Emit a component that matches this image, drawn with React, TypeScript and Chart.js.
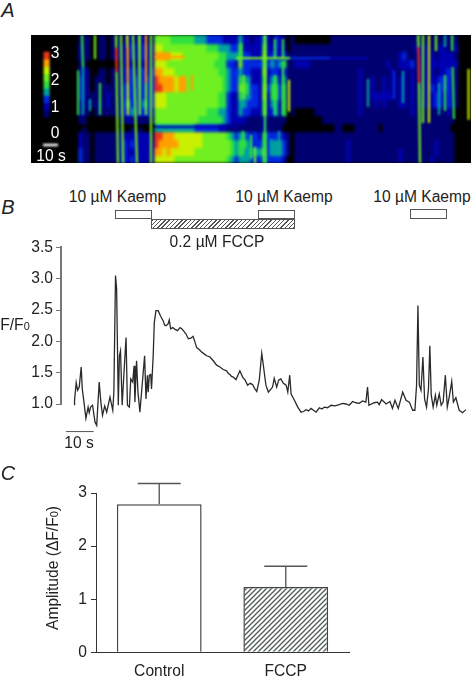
import React, { useEffect, useRef } from "react";
import { Chart, registerables } from "chart.js";

Chart.register(...registerables);

// Panel A: fluorescence levels (0 black .. 9 red) by image row and time column
const HEAT_ROWS = [
  "1110011011112212211 666655555544433332222 42212242132101 0000000001111111111111111111111 111111111100",
  "2110011011222322322 776666666666655544433 52222252232201 1111111111111111111111111111112 222112211200",
  "2110011011222322322 888877766666666655444 53322262332311 1111111111111111111111111123111 222212222100",
  "1100000000122212222 777666666666666555332 63333353434511 2222111111111111111111121122231 222222222200",
  "2210011011223323323 887776666666666655433 43322262332311 1111111111111111211111112112121 222212232100",
  "3210111011223333333 988887886666666665433 54422252442411 1111111111111111211211212122121 222223332100",
  "3210111111233333333 998887886666666665433 65433263553511 1111111111111111211211212122121 222323332100",
  "3211111211233333333 777666666666666655322 54433262553511 1111111111111111211222222122121 222233232100",
  "2211121211234333433 777666666666666655322 44333252442511 1111111111111111211121211122121 222233232100",
  "2110111111233433332 666666666666655544322 43322252342501 0000011111111111211111111111121 111111121000",
  "1100000000112111111 666666666665555554322 22111121111100 0000000111111111111111111111111 111111111000",
  "0100000000100101000 444444444433333322111 11111121111000 0000000000110001111110111111111 111111110000",
  "2110111111222222221 998887777777666666543 44333253333210 1111111111111111111111111111111 111111111000",
  "2110111111232322222 988888777777666666654 55433353444310 1111111111111211111111111111111 111121111000",
  "3110111111232222222 887877777766666666654 54444463444310 1111111111111211111111111121111 111121111000",
  "3110111111232322222 777776666666666666543 44433353333200 1111111111111211111111111121111 111211111000",
];

// Transient streaks in panel A: [column start, row start, column end, row end, level]
const STREAKS: number[][] = [
  [0.75, 0, 1, 4, 5], [1, 4, 1, 10, 4], [4, 0, 4, 3, 6], [-0.2, 4.4, -0.2, 10, 5],
  [5.25, 6, 5.25, 10, 5], [2.75, 8, 2.75, 9.5, 4],
  [9.25, 0, 9.3, 1.6, 6], [9.3, 1.6, 9.39, 4.6, 9], [9.39, 4.6, 9.75, 16, 6],
  [10.5, 0, 11, 16, 6], [12, 0, 12.1, 1.5, 7], [12.1, 1.5, 12.2, 6, 8], [12.2, 6, 12.25, 10, 7],
  [13.5, 0, 14.5, 16, 6], [15, 0, 15.2, 10, 6], [16.75, 0, 16.75, 6, 8], [16.75, 6, 16.75, 10, 6],
  [18, 0, 18, 16, 6],
  [84.75, 0, 84.85, 1.5, 6], [84.85, 1.5, 85, 6, 9], [85, 6, 85.25, 16, 6],
  [86, 0, 86, 11, 6], [87.5, 0, 87.5, 11, 7], [89.25, 0, 89.25, 2, 6], [90, 6, 90, 10, 4],
  [91.5, 0, 91.5, 1.5, 4], [91.5, 5, 91.5, 9.5, 5], [93.25, 0, 93.3, 2, 5], [93.4, 4, 93.75, 10.5, 5],
  [72.25, 5.5, 72.25, 9, 4], [78.75, 4.5, 78.75, 8, 3], [81, 4.5, 81, 8.5, 4],
  [39.25, 2.9, 52.75, 2.9, 6], [52.75, 2.9, 62.75, 2.9, 3], [62.75, 2.9, 72, 2.9, 2],
  [97.4, 4.25, 97.4, 10.6, 7],
  [19, 2.75, 26.5, 2.75, 8], [28.25, 5, 28.25, 7, 8], [19, 11.5, 40, 11.5, 2], [0, 11.4, 19, 11.4, 0],
  [40.5, 1, 40.5, 3, 5], [41.2, 5, 41.2, 8, 6], [42, 6, 42, 7.5, 5], [46.5, 0, 46.5, 10, 6], [46.5, 10, 46.5, 16, 5],
  [49, 0.5, 49, 3, 5], [49, 5, 49, 10, 5], [51, 0.5, 51, 3, 5], [51, 4, 51, 10, 5], [52.5, 5.6, 52.5, 9.6, 7],
  [41, 12, 41, 15, 5], [43, 12.5, 43, 15.5, 5], [44, 14, 44, 16, 6], [48, 13, 48, 15, 4], [50, 12, 50, 15, 4],
];
const COLORBAR_LEVELS = [9, 8, 7, 6, 5, 4, 3, 2, 1];
const LEVEL_COLORS = ["#000000", "#000070", "#0000b0", "#0028e0", "#00a0a0", "#30e040", "#70f020", "#c8f000", "#ffa000", "#e83818"];

// Panel B: calcium trace
const TRACE_T = [0.2, 0.2, 0.8, 1.3, 1.9, 2.6, 3, 3.6, 4.3, 5.1, 5.5, 6, 6.7, 7.6, 8.2, 9.1, 9.7, 10.3, 11.1, 11.8, 13, 14, 14.4, 15, 15.4, 16, 16.4, 16.8, 17.4, 18, 18.8, 19.3, 20, 20.5, 21.2, 21.7, 22, 22.6, 23.1, 23.8, 24.4, 25.5, 26, 26.5, 26.8, 27.2, 27.7, 28, 28.6, 29, 29.6, 30.4, 31.3, 32.2, 32.7, 33.2, 34, 34.4, 34.9, 35.7, 36.5, 37.4, 38.3, 38.9, 39.5, 40.4, 41.3, 42.2, 43, 43.6, 44.3, 45.2, 46.1, 47, 47.9, 49.1, 50.3, 51.5, 52.7, 53.9, 55.1, 55.7, 56.3, 56.9, 57.5, 58.5, 59.9, 60.9, 61.8, 62.7, 63.6, 64.5, 65.2, 66, 66.9, 67.8, 68.4, 69.3, 70.2, 71.7, 72.3, 73.2, 73.9, 74.7, 75.6, 76.6, 77.2, 77.9, 78.4, 79.6, 80.8, 82, 82.9, 83.8, 84.7, 85.6, 86.5, 87.4, 88.6, 89.5, 90.4, 91.6, 92.8, 94.3, 95.8, 97, 98.2, 99.4, 100.6, 101.8, 103, 104.2, 105.4, 106, 106.5, 108.4, 109.6, 110.2, 111.1, 112.7, 114.1, 115, 115.9, 117.1, 118.7, 119.9, 121.1, 122.3, 123.1, 123.7, 124.2, 124.7, 125.3, 126, 126.6, 127.3, 128, 128.5, 129, 129.7, 130.5, 131, 131.9, 132.6, 133.3, 134.1, 134.8, 135.5, 136.4, 137, 137.9, 139.1, 140.3, 141.5];
const TRACE_F = [0.98, 1.06, 1.34, 1.22, 1.27, 1.59, 1.24, 1.03, 0.77, 0.95, 0.86, 0.95, 0.98, 0.71, 0.66, 1.35, 1.03, 0.82, 0.97, 0.87, 1.11, 0.9, 1.19, 3.05, 2.83, 0.98, 1.77, 1.85, 0.98, 1.46, 2.06, 0.98, 0.95, 1.4, 1.35, 1.61, 1.03, 1.69, 1.19, 0.87, 1.19, 1.77, 1.08, 1.46, 1.19, 1.46, 1.47, 1.24, 1.77, 2.3, 2.49, 2.49, 2.4, 2.33, 2.26, 2.25, 2.28, 2.34, 2.2, 2.22, 2.19, 2.17, 2.22, 2.2, 2.17, 2.12, 2.04, 2.05, 2.08, 2, 1.9, 1.87, 1.83, 1.8, 1.77, 1.75, 1.69, 1.62, 1.59, 1.55, 1.53, 1.49, 1.47, 1.44, 1.43, 1.39, 1.53, 1.43, 1.38, 1.3, 1.33, 1.31, 1.25, 1.2, 1.38, 1.81, 1.61, 1.3, 1.19, 1.27, 1.41, 1.27, 1.38, 1.4, 1.33, 1.3, 1.19, 1.46, 1.16, 1.06, 0.95, 0.87, 0.88, 0.91, 0.89, 0.93, 0.9, 0.87, 0.94, 0.92, 0.95, 0.94, 0.98, 0.97, 0.99, 1.01, 1, 0.98, 1.04, 1.02, 1.01, 1.05, 1.03, 1.27, 0.98, 1.02, 1.03, 0.99, 1.07, 1, 1.04, 0.93, 1.06, 0.93, 1.19, 1.06, 1.03, 0.9, 0.9, 1.3, 2.57, 1.3, 1.22, 1.75, 1.08, 0.95, 1.24, 1.93, 1.14, 0.95, 1.14, 0.98, 1.16, 0.98, 1.03, 1.46, 0.95, 1.11, 1.36, 1.03, 1.1, 0.9, 0.86, 0.91];
const TRACE_TICKS = [1, 1.5, 2, 2.5, 3, 3.5];
const SCALEBAR_T = [-2.9, 7.1];

// Panel C: amplitude bars
const GROUPS = ["Control", "FCCP"];
const AMPLITUDE = [2.79, 1.23];
const AMPLITUDE_ERR_TOP = [3.18, 1.62];

const FONT = "'Liberation Sans', Arial, sans-serif";
const TEXT = "#222222";

function hatch(): CanvasPattern {
  const c = document.createElement("canvas");
  c.width = 5;
  c.height = 5;
  const g = c.getContext("2d")!;
  g.fillStyle = "#ffffff";
  g.fillRect(0, 0, 5, 5);
  g.strokeStyle = "#4f5a58";
  g.lineWidth = 1.3;
  g.beginPath();
  g.moveTo(-1, 6); g.lineTo(6, -1);
  g.moveTo(-1, 1); g.lineTo(1, -1);
  g.moveTo(4, 6); g.lineTo(6, 4);
  g.stroke();
  return g.createPattern(c, "repeat")!;
}

function Text(p: { x: number; y: number; size?: number; color?: string; italic?: boolean; rotate?: boolean; children: React.ReactNode }) {
  return (
    <div style={{
      position: "absolute", left: p.x, top: p.y, fontFamily: FONT, fontSize: p.size ?? 15.6, color: p.color ?? TEXT,
      fontStyle: p.italic ? "italic" : "normal", whiteSpace: "nowrap", lineHeight: 1,
      transform: `translate(-50%,-50%)${p.rotate ? " rotate(-90deg)" : ""}`,
    }}>{p.children}</div>
  );
}

function Box(p: { x: number; y: number; w: number; h: number; hatched?: boolean }) {
  return <div style={{
    position: "absolute", left: p.x, top: p.y, width: p.w, height: p.h, boxSizing: "border-box", border: "1.5px solid #555",
    background: p.hatched ? "repeating-linear-gradient(135deg,#555 0 1px,#fff 1px 3px)" : "#fff",
  }} />;
}

export default function App() {
  const heatRef = useRef<HTMLCanvasElement>(null);
  const streakRef = useRef<HTMLCanvasElement>(null);
  const traceRef = useRef<HTMLCanvasElement>(null);
  const barRef = useRef<HTMLCanvasElement>(null);

  useEffect(() => {
    const rows = HEAT_ROWS.map((r) => r.replace(/ /g, ""));
    const base = { animation: false as const, responsive: false, events: [] as any[], plugins: { legend: { display: false }, tooltip: { enabled: false } } };
    const heatScales = {
      x: { type: "linear", display: false, min: -12, max: 98, offset: false },
      y: { type: "linear", display: false, min: 0, max: 16, reverse: true },
    };

    const heatSets: any[] = rows.map((row, r) => ({
      grouped: false,
      barThickness: 4.6,
      data: row.split("").map((ch, c) => ({ x: c + 0.5, y: [r, r + 1.1] })),
      backgroundColor: row.split("").map((ch) => LEVEL_COLORS[Number(ch)]),
      borderWidth: 0,
    }));
    const heat = new Chart(heatRef.current!, {
      type: "bar",
      data: { datasets: heatSets },
      options: { ...base, layout: { autoPadding: false, padding: 0 }, scales: heatScales },
    } as any);

    const segment = (a: number, b: number, c: number, d: number, color: string, width: number) => ({
      data: [{ x: a, y: b }, { x: c, y: d }], borderColor: color, borderWidth: width, pointRadius: 0, fill: false,
    });
    const streakSets = STREAKS.map((s) => segment(s[0], s[1], s[2], s[3], LEVEL_COLORS[s[4]], 2.2));
    const barH = (10.25 - 2.1) / COLORBAR_LEVELS.length;
    const cbarSets = COLORBAR_LEVELS.map((l, i) => segment(-8.1, 2.1 + i * barH, -8.1, 2.1 + (i + 1) * barH + 0.05, LEVEL_COLORS[l], 6));
    const whiteBar = segment(-9, 13.75, -5.25, 13.75, "#ffffff", 2.5);
    const streaks = new Chart(streakRef.current!, {
      type: "line",
      data: { datasets: [...streakSets, ...cbarSets, whiteBar] },
      options: { ...base, layout: { autoPadding: false, padding: 0 }, scales: heatScales },
    } as any);

    const trace = new Chart(traceRef.current!, {
      type: "line",
      data: {
        datasets: [
          { data: TRACE_T.map((t, i) => ({ x: t, y: TRACE_F[i] })), borderColor: "#2a2a2a", borderWidth: 1.3, pointRadius: 0, clip: false },
          { data: SCALEBAR_T.map((t) => ({ x: t, y: 0.56 })), borderColor: "#555555", borderWidth: 1, pointRadius: 0, clip: false },
        ],
      },
      options: {
        ...base,
        layout: { padding: { left: 0, top: 11, right: 6, bottom: 36 } },
        scales: {
          x: { type: "linear", display: false, min: -4.69, max: 143 },
          y: {
            min: 1,
            max: 3.5,
            afterBuildTicks: (s: any) => { s.ticks = TRACE_TICKS.map((value) => ({ value })); },
            afterFit: (s: any) => { s.width = 61; },
            border: { color: "#777777", width: 2 },
            grid: { drawOnChartArea: false, tickLength: 5, tickColor: "#777777" },
            ticks: { color: TEXT, font: { family: FONT, size: 15.6 }, padding: 3, callback: (v: any) => Number(v).toFixed(1) },
          },
        },
      },
    } as any);

    const errorSet = (i: number) => ({
      type: "line", order: 0, clip: false,
      data: [{ x: GROUPS[i], y: AMPLITUDE[i] }, { x: GROUPS[i], y: AMPLITUDE_ERR_TOP[i] }],
      borderColor: "#666666", borderWidth: 1.5,
      pointStyle: "line", pointRadius: [0, 21.5], pointBorderColor: "#555555", pointBorderWidth: 1.5,
    });
    const bars = new Chart(barRef.current!, {
      type: "bar",
      data: {
        labels: GROUPS,
        datasets: [
          { order: 1, data: AMPLITUDE, backgroundColor: ["#ffffff", hatch()], borderColor: "#444444", borderWidth: 1.5, barPercentage: 0.67, categoryPercentage: 1 },
          errorSet(0),
          errorSet(1),
        ],
      },
      options: {
        ...base,
        layout: { padding: { left: 0, top: 19, right: 127, bottom: 0 } },
        scales: {
          x: {
            afterFit: (s: any) => { s.height = 23.7; },
            grid: { display: false, drawTicks: false },
            border: { color: "#333333", width: 1 },
            ticks: { color: TEXT, font: { family: FONT, size: 15.6 }, padding: 10 },
          },
          y: {
            min: 0,
            max: 3,
            afterFit: (s: any) => { s.width = 96; },
            border: { color: "#333333", width: 1 },
            grid: { drawOnChartArea: false, tickLength: 5, tickColor: "#333333" },
            ticks: { stepSize: 1, color: TEXT, font: { family: FONT, size: 15.6 }, padding: 4 },
          },
        },
      },
    } as any);

    return () => { heat.destroy(); streaks.destroy(); trace.destroy(); bars.destroy(); };
  }, []);

  const sub = { fontSize: "70%", verticalAlign: "-22%", lineHeight: 0 } as const;
  return (
    <div style={{ position: "absolute", left: 0, top: 0, width: 476, height: 676, overflow: "hidden", background: "#fff" }}>
      <div style={{ position: "absolute", left: 31, top: 35, width: 440, height: 128, overflow: "hidden", background: "#000" }}>
        <canvas ref={heatRef} width={440} height={128} style={{ position: "absolute", left: 0, top: 0, filter: "blur(1.8px)" }} />
        <canvas ref={streakRef} width={440} height={128} style={{ position: "absolute", left: 0, top: 0, filter: "blur(0.8px)" }} />
      </div>
      <canvas ref={traceRef} width={476} height={205} style={{ position: "absolute", left: 0, top: 235 }} />
      <canvas ref={barRef} width={476} height={206} style={{ position: "absolute", left: 0, top: 470 }} />

      <Text x={8} y={10} size={20} italic>A</Text>
      <Text x={8} y={207} size={20} italic>B</Text>
      <Text x={8} y={473} size={20} italic>C</Text>

      <Text x={55} y={53} color="#fff">3</Text>
      <Text x={55} y={80} color="#fff">2</Text>
      <Text x={55} y={107} color="#fff">1</Text>
      <Text x={55} y={133} color="#fff">0</Text>
      <Text x={51} y={156} color="#fff">10 s</Text>

      <Text x={117.5} y={197}>10 µM Kaemp</Text>
      <Text x={284} y={197}>10 µM Kaemp</Text>
      <Text x={422} y={197}>10 µM Kaemp</Text>
      <Text x={217} y={242}>0.2 µM FCCP</Text>
      <Box x={151} y={218.5} w={144} h={10.5} hatched />
      <Box x={114.5} y={209.5} w={37} h={9.5} />
      <Box x={257.5} y={209.5} w={37.5} h={9.5} />
      <Box x={410} y={208.5} w={37} h={10} />

      <Text x={15} y={325}>F/F<sub style={sub}>0</sub></Text>
      <Text x={79} y={443}>10 s</Text>
      <Text x={52.5} y={568} rotate>Amplitude (ΔF/F<sub style={sub}>0</sub>)</Text>
    </div>
  );
}
